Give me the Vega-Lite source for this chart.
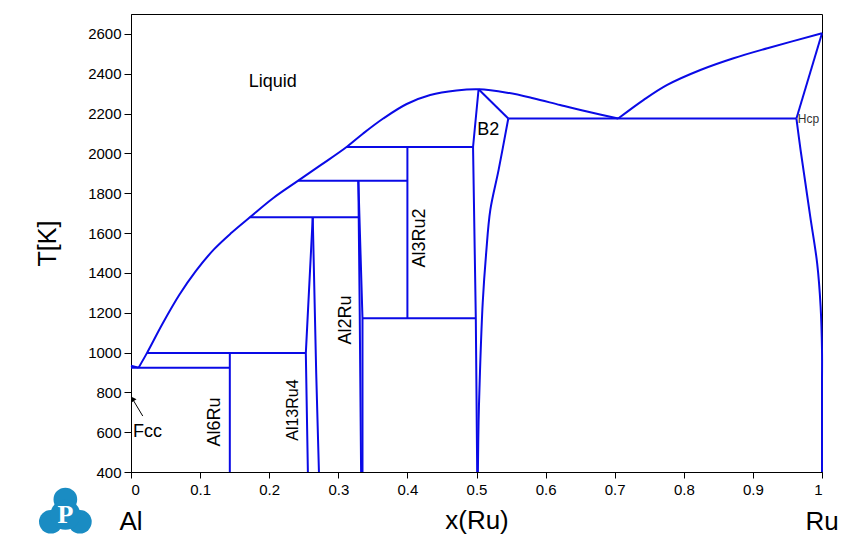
{
  "$schema": "https://vega.github.io/schema/vega-lite/v6.json",
  "autosize": "none",
  "padding": {"left": 131, "top": 14, "right": 30, "bottom": 88},
  "width": 691,
  "height": 458,
  "background": "white",
  "config": {
    "view": {"stroke": "black", "strokeWidth": 1},
    "font": "Liberation Sans",
    "axis": {"grid": false, "domainColor": "black", "tickColor": "black", "labelColor": "black", "titleColor": "black", "labelFont": "Liberation Sans", "titleFont": "Liberation Sans", "titleFontWeight": "normal"}
  },
  "datasets": {
    "lines": [
      {"seg": "fcc", "x": 0.0, "T": 934}, {"seg": "fcc", "x": 0.011, "T": 924},
      {"seg": "h924", "x": 0.0, "T": 924}, {"seg": "h924", "x": 0.143, "T": 924},
      {"seg": "al6ru", "x": 0.143, "T": 997}, {"seg": "al6ru", "x": 0.143, "T": 400},
      {"seg": "h997", "x": 0.023, "T": 997}, {"seg": "h997", "x": 0.253, "T": 997},
      {"seg": "al13L", "x": 0.256, "T": 400}, {"seg": "al13L", "x": 0.253, "T": 997}, {"seg": "al13L", "x": 0.263, "T": 1679},
      {"seg": "al13R", "x": 0.263, "T": 1679}, {"seg": "al13R", "x": 0.268, "T": 900}, {"seg": "al13R", "x": 0.272, "T": 400},
      {"seg": "h1679", "x": 0.172, "T": 1679}, {"seg": "h1679", "x": 0.329, "T": 1679},
      {"seg": "al2L", "x": 0.329, "T": 1865}, {"seg": "al2L", "x": 0.331, "T": 1200}, {"seg": "al2L", "x": 0.333, "T": 400},
      {"seg": "al2R", "x": 0.329, "T": 1865}, {"seg": "al2R", "x": 0.335, "T": 1172}, {"seg": "al2R", "x": 0.335, "T": 400},
      {"seg": "h1863", "x": 0.242, "T": 1863}, {"seg": "h1863", "x": 0.400, "T": 1863},
      {"seg": "h2032", "x": 0.312, "T": 2032}, {"seg": "h2032", "x": 0.495, "T": 2032},
      {"seg": "al3ru2", "x": 0.400, "T": 2032}, {"seg": "al3ru2", "x": 0.400, "T": 1172},
      {"seg": "h1172", "x": 0.335, "T": 1172}, {"seg": "h1172", "x": 0.499, "T": 1172},
      {"seg": "b2L", "x": 0.503, "T": 2322}, {"seg": "b2L", "x": 0.495, "T": 2032}, {"seg": "b2L", "x": 0.499, "T": 1172}, {"seg": "b2L", "x": 0.501, "T": 400},
      {"seg": "b2top", "x": 0.503, "T": 2322}, {"seg": "b2top", "x": 0.546, "T": 2175},
      {"seg": "h2175", "x": 0.546, "T": 2175}, {"seg": "h2175", "x": 0.963, "T": 2175},
      {"seg": "hcpL", "x": 1.0, "T": 2603}, {"seg": "hcpL", "x": 0.963, "T": 2175}
    ],
    "curves": [
      {"seg": "liqL", "x": 0.011, "T": 924}, {"seg": "liqL", "x": 0.023, "T": 997}, {"seg": "liqL", "x": 0.046, "T": 1147}, {"seg": "liqL", "x": 0.070, "T": 1290}, {"seg": "liqL", "x": 0.094, "T": 1410}, {"seg": "liqL", "x": 0.120, "T": 1518}, {"seg": "liqL", "x": 0.145, "T": 1600}, {"seg": "liqL", "x": 0.172, "T": 1679}, {"seg": "liqL", "x": 0.206, "T": 1776}, {"seg": "liqL", "x": 0.242, "T": 1863}, {"seg": "liqL", "x": 0.275, "T": 1942}, {"seg": "liqL", "x": 0.312, "T": 2032}, {"seg": "liqL", "x": 0.336, "T": 2100}, {"seg": "liqL", "x": 0.365, "T": 2175}, {"seg": "liqL", "x": 0.399, "T": 2248}, {"seg": "liqL", "x": 0.433, "T": 2293}, {"seg": "liqL", "x": 0.471, "T": 2316}, {"seg": "liqL", "x": 0.503, "T": 2322}, {"seg": "liqL", "x": 0.544, "T": 2305}, {"seg": "liqL", "x": 0.582, "T": 2277}, {"seg": "liqL", "x": 0.621, "T": 2243}, {"seg": "liqL", "x": 0.660, "T": 2210}, {"seg": "liqL", "x": 0.705, "T": 2175},
      {"seg": "liqR", "x": 0.705, "T": 2175}, {"seg": "liqR", "x": 0.742, "T": 2269}, {"seg": "liqR", "x": 0.776, "T": 2344}, {"seg": "liqR", "x": 0.824, "T": 2419}, {"seg": "liqR", "x": 0.872, "T": 2478}, {"seg": "liqR", "x": 0.921, "T": 2528}, {"seg": "liqR", "x": 1.0, "T": 2603},
      {"seg": "b2R", "x": 0.546, "T": 2175}, {"seg": "b2R", "x": 0.532, "T": 1917}, {"seg": "b2R", "x": 0.520, "T": 1716}, {"seg": "b2R", "x": 0.514, "T": 1500}, {"seg": "b2R", "x": 0.509, "T": 1250}, {"seg": "b2R", "x": 0.505, "T": 900}, {"seg": "b2R", "x": 0.503, "T": 650}, {"seg": "b2R", "x": 0.502, "T": 400},
      {"seg": "hcpS", "x": 0.963, "T": 2175}, {"seg": "hcpS", "x": 0.969, "T": 2017}, {"seg": "hcpS", "x": 0.976, "T": 1850}, {"seg": "hcpS", "x": 0.983, "T": 1682}, {"seg": "hcpS", "x": 0.993, "T": 1448}, {"seg": "hcpS", "x": 0.998, "T": 1230}, {"seg": "hcpS", "x": 1.0, "T": 1013}, {"seg": "hcpS", "x": 1.0, "T": 845}, {"seg": "hcpS", "x": 1.0, "T": 400}
    ],
    "labels": [
      {"label": "Liquid", "x": 0.205, "T": 2359},
      {"label": "B2", "x": 0.517, "T": 2118}
    ],
    "fcc": [
      {"label": "Fcc", "x": 0.003, "T": 601}
    ],
    "vlabels": [
      {"label": "Al3Ru2", "x": 0.418, "T": 1575},
      {"label": "Al2Ru", "x": 0.311, "T": 1163},
      {"label": "Al6Ru", "x": 0.121, "T": 651}
    ],
    "small": [
      {"label": "Al13Ru4", "x": 0.234, "T": 711}
    ],
    "ends": [
      {"label": "Al", "x": 0.0, "T": 150},
      {"label": "Ru", "x": 1.0, "T": 150}
    ],
    "arrow": [
      {"x": 0.017, "T": 681}, {"x": 0.002, "T": 768}
    ],
    "head": [
      {"x": 0.002, "T": 768}
    ],
    "hcp": [
      {"label": "Hcp", "x": 0.965, "T": 2172}
    ],
    "logo": [
      {"x": -0.095, "T": 262}, {"x": -0.116, "T": 150}, {"x": -0.074, "T": 150}
    ],
    "logobody": [
      {"x": -0.095, "T": 185}
    ],
    "logotext": [
      {"label": "P", "x": -0.095, "T": 182}
    ]
  },
  "layer": [
    {
      "data": {"name": "lines"},
      "mark": {"type": "line", "color": "#0a0ae6", "strokeWidth": 2},
      "encoding": {
        "x": {"field": "x", "type": "quantitative", "scale": {"domain": [0, 1], "nice": false, "zero": false},
          "axis": {"values": [0, 0.1, 0.2, 0.3, 0.4, 0.5, 0.6, 0.7, 0.8, 0.9, 1], "format": "~g", "labelFontSize": 15, "labelPadding": 4, "tickSize": 6, "title": "x(Ru)", "titleFontSize": 26, "titlePadding": 10}},
        "y": {"field": "T", "type": "quantitative", "scale": {"domain": [400, 2700], "nice": false, "zero": false},
          "axis": {"values": [400, 600, 800, 1000, 1200, 1400, 1600, 1800, 2000, 2200, 2400, 2600], "format": "d", "labelFontSize": 15, "labelPadding": 3, "tickSize": 7, "title": "T[K]", "titleFontSize": 25, "titlePadding": 27}},
        "detail": {"field": "seg"},
        "order": {"value": null}
      }
    },
    {
      "data": {"name": "curves"},
      "mark": {"type": "line", "color": "#0a0ae6", "strokeWidth": 2, "interpolate": "catmull-rom"},
      "encoding": {
        "x": {"field": "x", "type": "quantitative"},
        "y": {"field": "T", "type": "quantitative"},
        "detail": {"field": "seg"},
        "order": {"value": null}
      }
    },
    {
      "data": {"name": "labels"},
      "mark": {"type": "text", "fontSize": 18, "color": "black", "align": "center", "baseline": "middle"},
      "encoding": {"x": {"field": "x", "type": "quantitative"}, "y": {"field": "T", "type": "quantitative"}, "text": {"field": "label"}}
    },
    {
      "data": {"name": "fcc"},
      "mark": {"type": "text", "fontSize": 18, "color": "black", "align": "left", "baseline": "middle"},
      "encoding": {"x": {"field": "x", "type": "quantitative"}, "y": {"field": "T", "type": "quantitative"}, "text": {"field": "label"}}
    },
    {
      "data": {"name": "vlabels"},
      "mark": {"type": "text", "fontSize": 18, "color": "black", "angle": 270, "align": "center", "baseline": "middle"},
      "encoding": {"x": {"field": "x", "type": "quantitative"}, "y": {"field": "T", "type": "quantitative"}, "text": {"field": "label"}}
    },
    {
      "data": {"name": "small"},
      "mark": {"type": "text", "fontSize": 16, "color": "black", "angle": 270, "align": "center", "baseline": "middle"},
      "encoding": {"x": {"field": "x", "type": "quantitative"}, "y": {"field": "T", "type": "quantitative"}, "text": {"field": "label"}}
    },
    {
      "data": {"name": "hcp"},
      "mark": {"type": "text", "fontSize": 12, "color": "#333333", "align": "left", "baseline": "middle"},
      "encoding": {"x": {"field": "x", "type": "quantitative"}, "y": {"field": "T", "type": "quantitative"}, "text": {"field": "label"}}
    },
    {
      "data": {"name": "ends"},
      "mark": {"type": "text", "fontSize": 26, "color": "black", "align": "center", "baseline": "middle"},
      "encoding": {"x": {"field": "x", "type": "quantitative"}, "y": {"field": "T", "type": "quantitative"}, "text": {"field": "label"}}
    },
    {
      "data": {"name": "arrow"},
      "mark": {"type": "line", "color": "black", "strokeWidth": 1},
      "encoding": {"x": {"field": "x", "type": "quantitative"}, "y": {"field": "T", "type": "quantitative"}, "order": {"value": null}}
    },
    {
      "data": {"name": "head"},
      "mark": {"type": "point", "shape": "triangle-up", "filled": true, "color": "black", "size": 40, "angle": 328, "opacity": 1},
      "encoding": {"x": {"field": "x", "type": "quantitative"}, "y": {"field": "T", "type": "quantitative"}}
    },
    {
      "data": {"name": "logo"},
      "mark": {"type": "point", "shape": "circle", "filled": true, "color": "#1a8cc3", "size": 560, "opacity": 1},
      "encoding": {"x": {"field": "x", "type": "quantitative"}, "y": {"field": "T", "type": "quantitative"}}
    },
    {
      "data": {"name": "logobody"},
      "mark": {"type": "point", "shape": "circle", "filled": true, "color": "#1a8cc3", "size": 900, "opacity": 1},
      "encoding": {"x": {"field": "x", "type": "quantitative"}, "y": {"field": "T", "type": "quantitative"}}
    },
    {
      "data": {"name": "logotext"},
      "mark": {"type": "text", "fontSize": 26, "fontWeight": "bold", "font": "Liberation Serif", "color": "white", "align": "center", "baseline": "middle"},
      "encoding": {"x": {"field": "x", "type": "quantitative"}, "y": {"field": "T", "type": "quantitative"}, "text": {"field": "label"}}
    }
  ]
}
